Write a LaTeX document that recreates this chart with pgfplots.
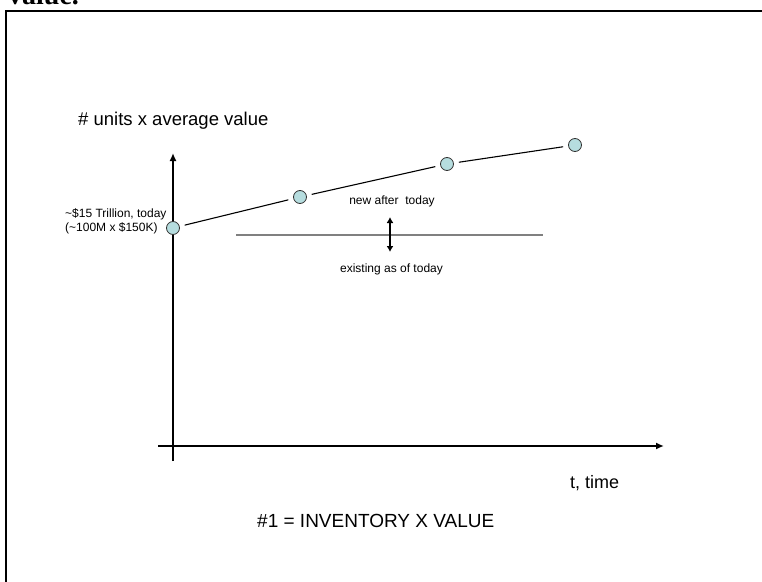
\documentclass[border=0pt]{standalone}
\usepackage{pgfplots}
\pgfplotsset{compat=1.18}
\usepackage{fontspec}
\setmainfont{Liberation Sans}
\newfontfamily\serifont{Liberation Serif}
\usetikzlibrary{arrows.meta}
\definecolor{circfill}{RGB}{182,221,223}
\definecolor{midgray}{RGB}{128,128,128}
\begin{document}
\begin{tikzpicture}
\useasboundingbox (0,0) rectangle (762bp,582bp);
\clip (0,0) rectangle (762bp,582bp);
\fill[white] (0,0) rectangle (762bp,582bp);
\begin{axis}[at={(0,0)}, anchor=south west, x=1bp, y=1bp,
  xmin=-173, xmax=589, ymin=-136, ymax=446,
  hide axis, clip=false]
% frame (only left and top visible)
\draw[black, line width=2.6bp] (axis cs:-167,-250) -- (axis cs:-167,435) -- (axis cs:720,435);
\node[anchor=base west, inner sep=0pt, font=\serifont\bfseries\fontsize{28bp}{30bp}\selectfont] at (axis cs:-165,442) {value.};
% axes
\draw[black, line width=1.8bp, -{Latex[length=8bp,width=7bp]}] (axis cs:0,-15) -- (axis cs:0,293);
\draw[black, line width=1.8bp, -{Latex[length=8bp,width=7bp]}] (axis cs:-15,0) -- (axis cs:491,0);
% existing level
\addplot[midgray, line width=1.8bp] coordinates {(63,211) (370,211)};
\draw[black, line width=1.6bp, {Latex[length=6bp,width=7bp]}-{Latex[length=6bp,width=7bp]}] (axis cs:217,229) -- (axis cs:217,194);
% inventory value over time
\addplot[black, line width=1.1bp, shorten <=12bp, shorten >=12bp] coordinates {(0,218) (127,249)};
\addplot[black, line width=1.1bp, shorten <=12bp, shorten >=12bp] coordinates {(127,249) (274,282)};
\addplot[black, line width=1.1bp, shorten <=12bp, shorten >=12bp] coordinates {(274,282) (402,301)};
\addplot[only marks, mark=*, mark size=6.5bp, mark options={fill=circfill, draw=black!80, line width=0.8bp}] coordinates {(0,218) (127,249) (274,282) (402,301)};
% texts
\node[anchor=base west, inner sep=0pt, font=\fontsize{18.5bp}{22bp}\selectfont] at (axis cs:-95,321) {\# units x average value};
\node[anchor=base west, inner sep=0pt, font=\fontsize{12bp}{14bp}\selectfont] at (axis cs:-108,229) {\textasciitilde\$15 Trillion, today};
\node[anchor=base west, inner sep=0pt, font=\fontsize{12bp}{14bp}\selectfont] at (axis cs:-108,215) {(\textasciitilde100M x \$150K)};
\node[anchor=base, inner sep=0pt, font=\fontsize{12bp}{14bp}\selectfont] at (axis cs:219,242) {new after\ \ today};
\node[anchor=base, inner sep=0pt, font=\fontsize{12bp}{14bp}\selectfont] at (axis cs:218.5,174) {existing as of today};
\node[anchor=base west, inner sep=0pt, font=\fontsize{18bp}{22bp}\selectfont] at (axis cs:397,-42) {t, time};
\node[anchor=base west, inner sep=0pt, font=\fontsize{19bp}{22bp}\selectfont] at (axis cs:84,-81) {\#1 = INVENTORY X VALUE};
\end{axis}
\end{tikzpicture}
\end{document}
